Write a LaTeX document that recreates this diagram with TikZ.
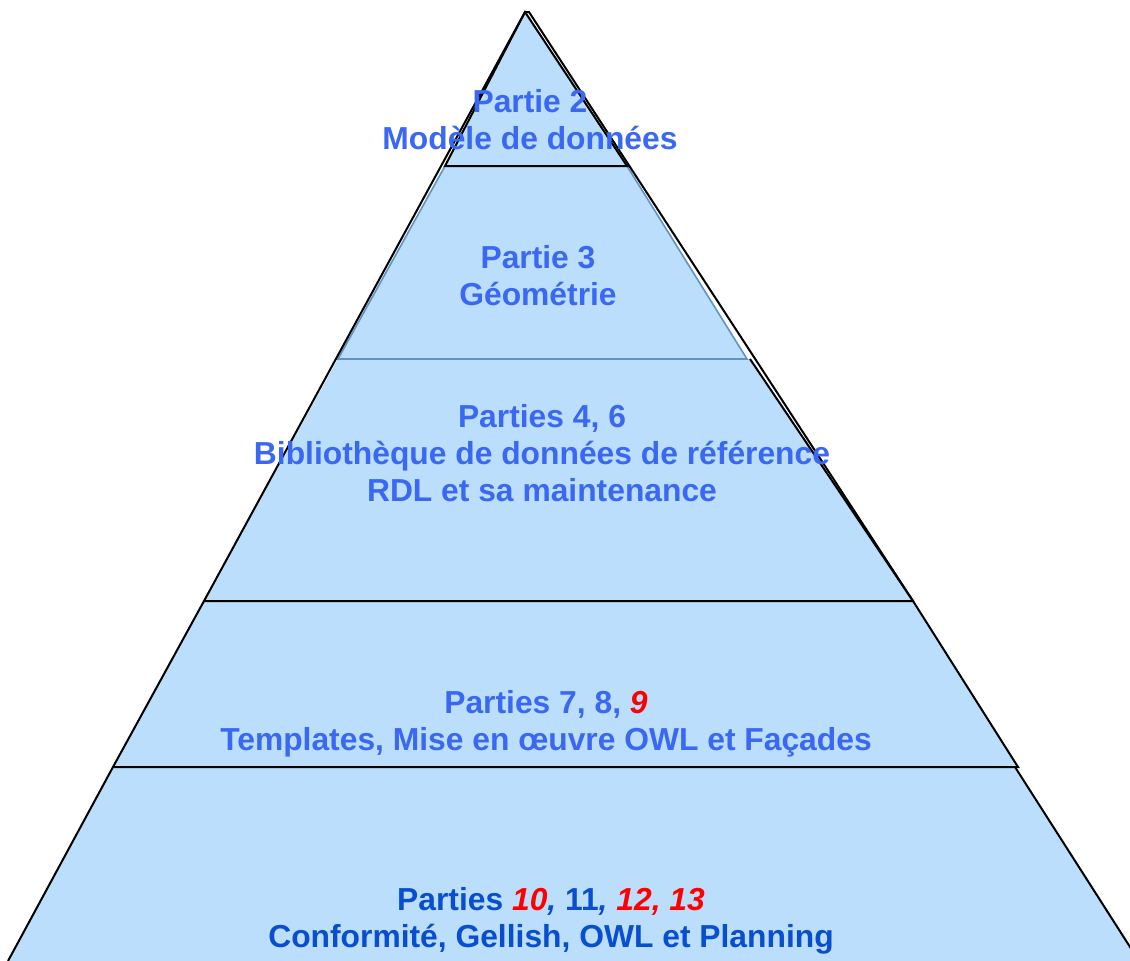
\documentclass[tikz,border=0pt]{standalone}
\usepackage{fontspec}
\setmainfont{Liberation Sans}
\begin{document}
\begin{tikzpicture}[x=1pt,y=-1pt]
    % Define colors
    \definecolor{layerfill}{RGB}{186,222,252}
    \definecolor{textblue}{RGB}{58,104,242}
    \definecolor{darkblue}{RGB}{8,78,206}
    \definecolor{edgeblue}{RGB}{98,146,194}
    \tikzset{
        edge/.style={draw=black, line width=2pt, line join=miter},
        layertext/.style={align=center, inner sep=0pt, text=textblue,
            font=\bfseries\fontsize{31.8}{37}\selectfont}
    }
    \useasboundingbox (0,0) rectangle (1130,961);
    \begin{scope}
        \clip (0,0) rectangle (1130,961);
        % Fill layers
        \fill[layerfill] (113,767) -- (1015,767) -- (1139,961) -- (8,961) -- cycle;
        \fill[layerfill] (204,601) -- (913,601) -- (1018,767) -- (113,767) -- cycle;
        \fill[layerfill] (338,359) -- (750,359) -- (913,601) -- (204,601) -- cycle;
        \fill[layerfill] (445,166) -- (627,166) -- (747,359) -- (338,359) -- cycle;
        \fill[layerfill] (525,12) -- (627,166) -- (445,166) -- cycle;

        % Draw layer edges
        \draw[edge] (8,961) -- (113,767) -- (1015,767) -- (1139,961);
        \draw[edge] (113,767) -- (204,601) -- (913,601) -- (1018,767) -- (1015,767);
        \draw[edge] (913,601) -- (750,359);
        \draw[draw=edgeblue, line width=1.6pt] (445,166) -- (338,359) -- (747,359) -- (627,166);
        \draw[edge] (525,12) -- (627,166) -- (445,166) -- cycle;

        % Outer outline
        \draw[edge] (204,601) -- (525,12) -- (529,12) -- (913,601);
    \end{scope}

    % Labels
    \node[layertext] (partie2) at (530,120) {Partie 2\\Modèle de données};
    \node[layertext] (partie3) at (538,276) {Partie 3\\Géométrie};
    \node[layertext] (parties46) at (542,453)
        {Parties 4, 6\\Bibliothèque de données de référence\\RDL et sa maintenance};
    \node[layertext] (parties789) at (546,724)
        {Parties 7, 8, \textcolor{red}{\itshape 9}\\Templates, Mise en œuvre OWL et Façades};
    \node[layertext, text=darkblue] (parties1013) at (551,921)
        {Parties \textcolor{red}{\itshape 10}{\itshape ,} 11{\itshape ,} \textcolor{red}{\itshape 12, 13}\\Conformité, Gellish, OWL et Planning};
\end{tikzpicture}
\end{document}
